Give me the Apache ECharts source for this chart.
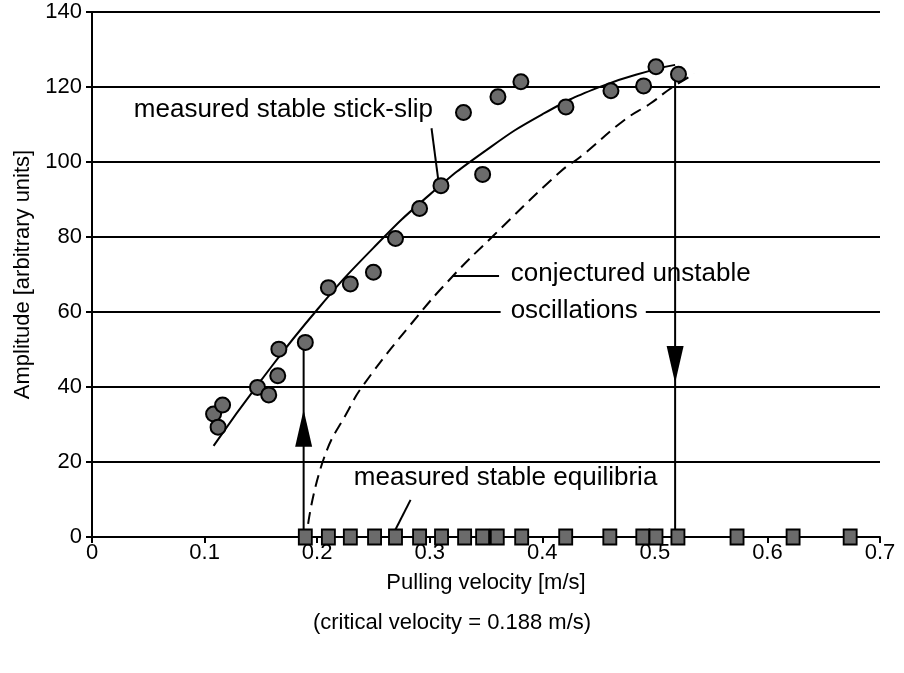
<!DOCTYPE html>
<html><head><meta charset="utf-8">
<script src="https://cdn.jsdelivr.net/npm/echarts@6/dist/echarts.min.js"></script>
<style>html,body{margin:0;padding:0;background:#fff}#c{width:904px;height:673px}</style>
</head><body><div id="c"></div>
<script>
// measured stable stick-slip (circles)
const stickV = [0.108,0.112,0.116,0.147,0.157,0.165,0.166,0.1895,0.210,0.2295,0.250,0.2696,0.291,0.310,0.330,0.347,0.3606,0.381,0.421,0.461,0.490,0.501,0.521];
const stickA = [32.8,29.3,35.2,39.9,37.9,43.0,50.1,51.9,66.5,67.5,70.6,79.6,87.6,93.7,113.2,96.7,117.4,121.4,114.7,119.0,120.3,125.4,123.4];
// measured stable equilibria (squares, amplitude 0)
const equilV = [0.1895,0.210,0.2295,0.251,0.2696,0.291,0.3105,0.331,0.347,0.360,0.3817,0.4208,0.460,0.4893,0.501,0.5205,0.573,0.6228,0.6735];
// fitted curve through stick-slip points
const fitV = [0.108,0.15,0.2,0.25,0.3,0.35,0.4,0.45,0.5,0.518];
const fitA = [24.3,41.7,60.6,77.1,91.3,103.1,112.7,119.9,124.7,125.9];
// conjectured unstable oscillations (dashed)
const unstV = [0.192,0.206,0.228,0.241,0.284,0.32,0.354,0.416,0.434,0.473,0.496,0.514,0.535];
const unstA = [3.5,21,34,40.5,57,69.4,79.6,97.4,101.4,111.2,115.6,119.6,123.5];
// arrows
const criticalV = 0.188;
const upArrowTop = 51.9, upHeadA = 29;
const downV = 0.518, downArrowTop = 123.4, downHeadA = 46;
// annotation texts
const labels = [
  {text:'measured stable stick-slip', v:0.170, a:113.9, align:'center', bg:null},
  {text:'conjectured unstable', v:0.372, a:70.1, align:'left', bg:null},
  {text:'oscillations', v:0.363, a:60.4, align:'left', bg:'#fff'},
  {text:'measured stable equilibria', v:0.3674, a:15.7, align:'center', bg:null}
];
const leaders = [
  [[0.3016,109],[0.308,94.3]],
  [[0.32,69.6],[0.3616,69.6]],
  [[0.283,9.9],[0.2696,2]]
];

const zip = (xs, ys) => xs.map((x,i)=>[x,ys[i]]);
const FONT = 'Liberation Sans, Arial, sans-serif';
const series = [];
series.push({type:'line', data:zip(fitV,fitA), smooth:true, symbol:'none', lineStyle:{color:'#000',width:2}, z:3});
series.push({type:'line', data:zip(unstV,unstA), smooth:true, symbol:'none', lineStyle:{color:'#000',width:2,type:[12,7]}, z:3});
series.push({type:'line', data:[[criticalV,0],[criticalV,upArrowTop]], symbol:'none', lineStyle:{color:'#000',width:2}, z:3});
series.push({type:'line', data:[[downV,0],[downV,downArrowTop]], symbol:'none', lineStyle:{color:'#000',width:2}, z:3});
series.push({type:'scatter', data:[[criticalV,upHeadA]], symbol:'triangle', symbolSize:[17,37], itemStyle:{color:'#000',opacity:1}, z:4});
series.push({type:'scatter', data:[[downV,downHeadA]], symbol:'triangle', symbolRotate:180, symbolSize:[17,37], itemStyle:{color:'#000',opacity:1}, z:4});
leaders.forEach(l=>series.push({type:'line', data:l, symbol:'none', lineStyle:{color:'#000',width:2}, z:3}));
series.push({type:'scatter', data:zip(stickV,stickA), symbol:'circle', symbolSize:15, itemStyle:{color:'#6b6b6b',borderColor:'#000',borderWidth:2,opacity:1}, z:5});
series.push({type:'scatter', data:equilV.map(v=>[v,0]), symbol:'rect', symbolSize:[13,15], itemStyle:{color:'#6b6b6b',borderColor:'#000',borderWidth:2,opacity:1}, z:5});
labels.forEach(l=>series.push({type:'scatter', data:[[l.v,l.a]], symbolSize:1, itemStyle:{color:'transparent',opacity:1}, z:6, silent:true,
  label:{show:true, position:'inside', formatter:l.text, align:l.align, verticalAlign:'middle', color:'#000', opacity:1, textBorderWidth:0,
    fontFamily:FONT, fontSize:26, backgroundColor:l.bg||'transparent', padding:l.bg?[0,8,0,10]:0}}));

const chart = echarts.init(document.getElementById('c'), null, {renderer:'canvas'});
chart.setOption({
  animation:false,
  backgroundColor:'#fff',
  grid:{left:92, right:24, top:12, bottom:136},
  xAxis:{type:'value', min:0, max:0.7, interval:0.1,
    name:'Pulling velocity [m/s]', nameLocation:'middle', nameGap:35,
    nameTextStyle:{color:'#000', fontFamily:FONT, fontSize:22},
    axisLine:{lineStyle:{color:'#000',width:2}},
    axisTick:{show:true, length:6, lineStyle:{color:'#000',width:2}},
    axisLabel:{color:'#000', fontFamily:FONT, fontSize:22, margin:5, formatter:v=>String(+v.toFixed(1))},
    splitLine:{show:false}},
  yAxis:{type:'value', min:0, max:140, interval:20,
    name:'Amplitude [arbitrary units]', nameLocation:'middle', nameGap:58,
    nameTextStyle:{color:'#000', fontFamily:FONT, fontSize:22},
    axisLine:{show:true, lineStyle:{color:'#000',width:2}},
    axisTick:{show:true, length:6, lineStyle:{color:'#000',width:2}},
    axisLabel:{color:'#000', fontFamily:FONT, fontSize:22, margin:10},
    splitLine:{show:true, lineStyle:{color:'#000',width:2}}},
  graphic:[{type:'text', left:'center', top:612, style:{text:'(critical velocity = 0.188 m/s)', fill:'#000', font:'22px '+FONT}}],
  series:series
});
</script></body></html>
